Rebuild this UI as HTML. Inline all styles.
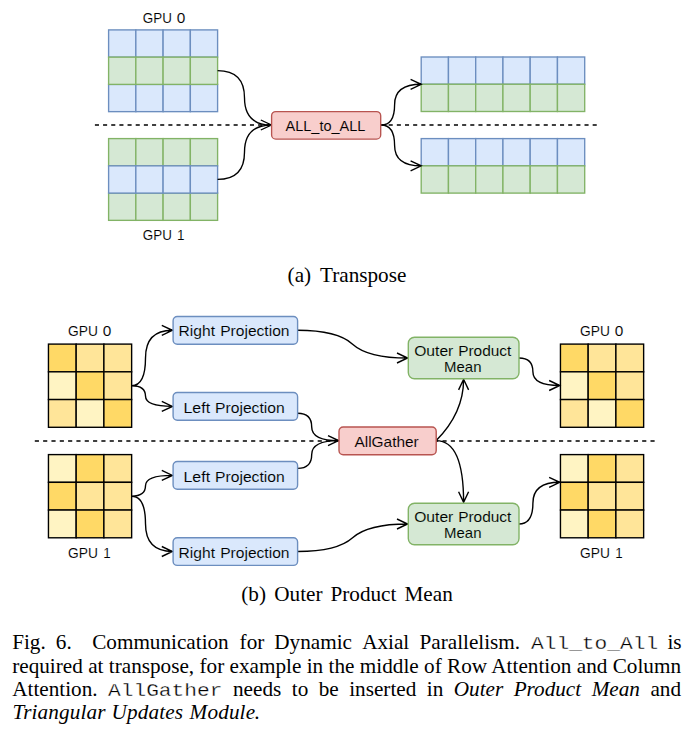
<!DOCTYPE html>
<html><head><meta charset="utf-8"><title>Fig 6</title>
<style>
html,body{margin:0;padding:0;background:#fff;}
body{width:691px;height:735px;position:relative;overflow:hidden;font-family:"Liberation Serif",serif;color:#000;}
.w{position:absolute;white-space:pre;line-height:1;font-size:20.7px;}
.m{font-family:"Liberation Mono",monospace;font-size:18.4px;-webkit-text-stroke:0.3px #fff;display:inline-block;transform-origin:0 50%;transform:scaleX(1.152);}
.mo{display:inline-block;width:114.5px;text-align:left;text-align-last:left;}
.i{font-style:italic;}
.w.i{letter-spacing:0.15px;}
.ln{position:absolute;left:12.2px;width:668.8px;font-size:21.2px;line-height:24px;height:24px;text-align:justify;text-align-last:justify;white-space:nowrap;}
</style></head>
<body>
<svg width="691" height="735" viewBox="0 0 691 735" style="position:absolute;left:0;top:0">
<path d="M94.9 125 H597.1" stroke="#000" stroke-width="1.36" stroke-dasharray="4.08 4.08" fill="none"/>
<rect x="108.60" y="29.90" width="27.25" height="27.25" fill="#dae8fc" stroke="#6c8ebf" stroke-width="1.36"/>
<rect x="135.85" y="29.90" width="27.25" height="27.25" fill="#dae8fc" stroke="#6c8ebf" stroke-width="1.36"/>
<rect x="163.10" y="29.90" width="27.25" height="27.25" fill="#dae8fc" stroke="#6c8ebf" stroke-width="1.36"/>
<rect x="190.35" y="29.90" width="27.25" height="27.25" fill="#dae8fc" stroke="#6c8ebf" stroke-width="1.36"/>
<rect x="108.60" y="84.40" width="27.25" height="27.25" fill="#dae8fc" stroke="#6c8ebf" stroke-width="1.36"/>
<rect x="135.85" y="84.40" width="27.25" height="27.25" fill="#dae8fc" stroke="#6c8ebf" stroke-width="1.36"/>
<rect x="163.10" y="84.40" width="27.25" height="27.25" fill="#dae8fc" stroke="#6c8ebf" stroke-width="1.36"/>
<rect x="190.35" y="84.40" width="27.25" height="27.25" fill="#dae8fc" stroke="#6c8ebf" stroke-width="1.36"/>
<rect x="108.60" y="57.15" width="27.25" height="27.25" fill="#d5e8d4" stroke="#82b366" stroke-width="1.36"/>
<rect x="135.85" y="57.15" width="27.25" height="27.25" fill="#d5e8d4" stroke="#82b366" stroke-width="1.36"/>
<rect x="163.10" y="57.15" width="27.25" height="27.25" fill="#d5e8d4" stroke="#82b366" stroke-width="1.36"/>
<rect x="190.35" y="57.15" width="27.25" height="27.25" fill="#d5e8d4" stroke="#82b366" stroke-width="1.36"/>
<rect x="108.60" y="138.60" width="27.25" height="27.25" fill="#d5e8d4" stroke="#82b366" stroke-width="1.36"/>
<rect x="135.85" y="138.60" width="27.25" height="27.25" fill="#d5e8d4" stroke="#82b366" stroke-width="1.36"/>
<rect x="163.10" y="138.60" width="27.25" height="27.25" fill="#d5e8d4" stroke="#82b366" stroke-width="1.36"/>
<rect x="190.35" y="138.60" width="27.25" height="27.25" fill="#d5e8d4" stroke="#82b366" stroke-width="1.36"/>
<rect x="108.60" y="193.10" width="27.25" height="27.25" fill="#d5e8d4" stroke="#82b366" stroke-width="1.36"/>
<rect x="135.85" y="193.10" width="27.25" height="27.25" fill="#d5e8d4" stroke="#82b366" stroke-width="1.36"/>
<rect x="163.10" y="193.10" width="27.25" height="27.25" fill="#d5e8d4" stroke="#82b366" stroke-width="1.36"/>
<rect x="190.35" y="193.10" width="27.25" height="27.25" fill="#d5e8d4" stroke="#82b366" stroke-width="1.36"/>
<rect x="108.60" y="165.85" width="27.25" height="27.25" fill="#dae8fc" stroke="#6c8ebf" stroke-width="1.36"/>
<rect x="135.85" y="165.85" width="27.25" height="27.25" fill="#dae8fc" stroke="#6c8ebf" stroke-width="1.36"/>
<rect x="163.10" y="165.85" width="27.25" height="27.25" fill="#dae8fc" stroke="#6c8ebf" stroke-width="1.36"/>
<rect x="190.35" y="165.85" width="27.25" height="27.25" fill="#dae8fc" stroke="#6c8ebf" stroke-width="1.36"/>
<rect x="421.20" y="57.00" width="27.25" height="27.25" fill="#dae8fc" stroke="#6c8ebf" stroke-width="1.36"/>
<rect x="448.45" y="57.00" width="27.25" height="27.25" fill="#dae8fc" stroke="#6c8ebf" stroke-width="1.36"/>
<rect x="475.70" y="57.00" width="27.25" height="27.25" fill="#dae8fc" stroke="#6c8ebf" stroke-width="1.36"/>
<rect x="502.95" y="57.00" width="27.25" height="27.25" fill="#dae8fc" stroke="#6c8ebf" stroke-width="1.36"/>
<rect x="530.20" y="57.00" width="27.25" height="27.25" fill="#dae8fc" stroke="#6c8ebf" stroke-width="1.36"/>
<rect x="557.45" y="57.00" width="27.25" height="27.25" fill="#dae8fc" stroke="#6c8ebf" stroke-width="1.36"/>
<rect x="421.20" y="84.25" width="27.25" height="27.25" fill="#d5e8d4" stroke="#82b366" stroke-width="1.36"/>
<rect x="448.45" y="84.25" width="27.25" height="27.25" fill="#d5e8d4" stroke="#82b366" stroke-width="1.36"/>
<rect x="475.70" y="84.25" width="27.25" height="27.25" fill="#d5e8d4" stroke="#82b366" stroke-width="1.36"/>
<rect x="502.95" y="84.25" width="27.25" height="27.25" fill="#d5e8d4" stroke="#82b366" stroke-width="1.36"/>
<rect x="530.20" y="84.25" width="27.25" height="27.25" fill="#d5e8d4" stroke="#82b366" stroke-width="1.36"/>
<rect x="557.45" y="84.25" width="27.25" height="27.25" fill="#d5e8d4" stroke="#82b366" stroke-width="1.36"/>
<rect x="421.20" y="138.60" width="27.25" height="27.25" fill="#dae8fc" stroke="#6c8ebf" stroke-width="1.36"/>
<rect x="448.45" y="138.60" width="27.25" height="27.25" fill="#dae8fc" stroke="#6c8ebf" stroke-width="1.36"/>
<rect x="475.70" y="138.60" width="27.25" height="27.25" fill="#dae8fc" stroke="#6c8ebf" stroke-width="1.36"/>
<rect x="502.95" y="138.60" width="27.25" height="27.25" fill="#dae8fc" stroke="#6c8ebf" stroke-width="1.36"/>
<rect x="530.20" y="138.60" width="27.25" height="27.25" fill="#dae8fc" stroke="#6c8ebf" stroke-width="1.36"/>
<rect x="557.45" y="138.60" width="27.25" height="27.25" fill="#dae8fc" stroke="#6c8ebf" stroke-width="1.36"/>
<rect x="421.20" y="165.85" width="27.25" height="27.25" fill="#d5e8d4" stroke="#82b366" stroke-width="1.36"/>
<rect x="448.45" y="165.85" width="27.25" height="27.25" fill="#d5e8d4" stroke="#82b366" stroke-width="1.36"/>
<rect x="475.70" y="165.85" width="27.25" height="27.25" fill="#d5e8d4" stroke="#82b366" stroke-width="1.36"/>
<rect x="502.95" y="165.85" width="27.25" height="27.25" fill="#d5e8d4" stroke="#82b366" stroke-width="1.36"/>
<rect x="530.20" y="165.85" width="27.25" height="27.25" fill="#d5e8d4" stroke="#82b366" stroke-width="1.36"/>
<rect x="557.45" y="165.85" width="27.25" height="27.25" fill="#d5e8d4" stroke="#82b366" stroke-width="1.36"/>
<path d="M217.60 70.60 Q244.50 70.60 244.50 97.80 Q244.50 125.00 271.40 125.00 M217.60 179.40 Q244.50 179.40 244.50 152.20 Q244.50 125.00 271.40 125.00 M260.80 130.00 L271.40 125.00 L260.80 120.00 M381.00 125.00 Q394.60 125.00 394.60 104.65 Q394.60 84.30 421.20 84.30 M410.60 89.30 L421.20 84.30 L410.60 79.30 M381.00 125.00 Q394.60 125.00 394.60 145.40 Q394.60 165.80 421.20 165.80 M410.60 170.80 L421.20 165.80 L410.60 160.80" stroke="#000" stroke-width="1.36" fill="none" stroke-linejoin="miter" stroke-miterlimit="10"/>
<rect x="271.6" y="111.6" width="109.1" height="27.5" rx="4.2" fill="#f8cecc" stroke="#b85450" stroke-width="1.36"/>
<path d="M34.8 441.0 H656.3" stroke="#000" stroke-width="1.39" stroke-dasharray="4.16 4.16" fill="none"/>
<rect x="48.45" y="344.10" width="27.73" height="27.73" fill="#ffd966" stroke="#000" stroke-width="1.39"/>
<rect x="76.18" y="344.10" width="27.73" height="27.73" fill="#ffe599" stroke="#000" stroke-width="1.39"/>
<rect x="103.91" y="344.10" width="27.73" height="27.73" fill="#ffe599" stroke="#000" stroke-width="1.39"/>
<rect x="48.45" y="371.83" width="27.73" height="27.73" fill="#fff4c3" stroke="#000" stroke-width="1.39"/>
<rect x="76.18" y="371.83" width="27.73" height="27.73" fill="#ffd966" stroke="#000" stroke-width="1.39"/>
<rect x="103.91" y="371.83" width="27.73" height="27.73" fill="#ffe599" stroke="#000" stroke-width="1.39"/>
<rect x="48.45" y="399.56" width="27.73" height="27.73" fill="#ffe599" stroke="#000" stroke-width="1.39"/>
<rect x="76.18" y="399.56" width="27.73" height="27.73" fill="#fff4c3" stroke="#000" stroke-width="1.39"/>
<rect x="103.91" y="399.56" width="27.73" height="27.73" fill="#ffd966" stroke="#000" stroke-width="1.39"/>
<rect x="48.45" y="454.60" width="27.73" height="27.73" fill="#fff4c3" stroke="#000" stroke-width="1.39"/>
<rect x="76.18" y="454.60" width="27.73" height="27.73" fill="#ffd966" stroke="#000" stroke-width="1.39"/>
<rect x="103.91" y="454.60" width="27.73" height="27.73" fill="#ffe599" stroke="#000" stroke-width="1.39"/>
<rect x="48.45" y="482.33" width="27.73" height="27.73" fill="#ffd966" stroke="#000" stroke-width="1.39"/>
<rect x="76.18" y="482.33" width="27.73" height="27.73" fill="#ffe599" stroke="#000" stroke-width="1.39"/>
<rect x="103.91" y="482.33" width="27.73" height="27.73" fill="#ffe599" stroke="#000" stroke-width="1.39"/>
<rect x="48.45" y="510.06" width="27.73" height="27.73" fill="#fff4c3" stroke="#000" stroke-width="1.39"/>
<rect x="76.18" y="510.06" width="27.73" height="27.73" fill="#ffd966" stroke="#000" stroke-width="1.39"/>
<rect x="103.91" y="510.06" width="27.73" height="27.73" fill="#ffe599" stroke="#000" stroke-width="1.39"/>
<rect x="560.45" y="344.10" width="27.73" height="27.73" fill="#ffd966" stroke="#000" stroke-width="1.39"/>
<rect x="588.18" y="344.10" width="27.73" height="27.73" fill="#ffe599" stroke="#000" stroke-width="1.39"/>
<rect x="615.91" y="344.10" width="27.73" height="27.73" fill="#ffe599" stroke="#000" stroke-width="1.39"/>
<rect x="560.45" y="371.83" width="27.73" height="27.73" fill="#fff4c3" stroke="#000" stroke-width="1.39"/>
<rect x="588.18" y="371.83" width="27.73" height="27.73" fill="#ffd966" stroke="#000" stroke-width="1.39"/>
<rect x="615.91" y="371.83" width="27.73" height="27.73" fill="#ffe599" stroke="#000" stroke-width="1.39"/>
<rect x="560.45" y="399.56" width="27.73" height="27.73" fill="#ffe599" stroke="#000" stroke-width="1.39"/>
<rect x="588.18" y="399.56" width="27.73" height="27.73" fill="#fff4c3" stroke="#000" stroke-width="1.39"/>
<rect x="615.91" y="399.56" width="27.73" height="27.73" fill="#ffd966" stroke="#000" stroke-width="1.39"/>
<rect x="560.45" y="454.60" width="27.73" height="27.73" fill="#fff4c3" stroke="#000" stroke-width="1.39"/>
<rect x="588.18" y="454.60" width="27.73" height="27.73" fill="#ffd966" stroke="#000" stroke-width="1.39"/>
<rect x="615.91" y="454.60" width="27.73" height="27.73" fill="#ffe599" stroke="#000" stroke-width="1.39"/>
<rect x="560.45" y="482.33" width="27.73" height="27.73" fill="#ffd966" stroke="#000" stroke-width="1.39"/>
<rect x="588.18" y="482.33" width="27.73" height="27.73" fill="#ffe599" stroke="#000" stroke-width="1.39"/>
<rect x="615.91" y="482.33" width="27.73" height="27.73" fill="#ffe599" stroke="#000" stroke-width="1.39"/>
<rect x="560.45" y="510.06" width="27.73" height="27.73" fill="#fff4c3" stroke="#000" stroke-width="1.39"/>
<rect x="588.18" y="510.06" width="27.73" height="27.73" fill="#ffd966" stroke="#000" stroke-width="1.39"/>
<rect x="615.91" y="510.06" width="27.73" height="27.73" fill="#ffe599" stroke="#000" stroke-width="1.39"/>
<path d="M131.60 385.70 Q145.50 385.70 145.50 358.00 Q145.50 330.30 172.40 330.30 M161.80 335.30 L172.40 330.30 L161.80 325.30 M131.60 385.70 Q145.50 385.70 145.50 396.05 Q145.50 406.40 172.40 406.40 M161.80 411.40 L172.40 406.40 L161.80 401.40 M131.60 496.20 Q145.50 496.20 145.50 485.80 Q145.50 475.40 172.40 475.40 M161.80 480.40 L172.40 475.40 L161.80 470.40 M131.60 496.20 Q145.50 496.20 145.50 523.85 Q145.50 551.50 172.40 551.50 M161.80 556.50 L172.40 551.50 L161.80 546.50 M297.60 413.30 Q311.70 413.30 311.70 426.95 Q311.70 440.60 338.60 440.60 M297.60 468.40 Q311.70 468.40 311.70 454.50 Q311.70 440.60 338.60 440.60 M328.00 445.60 L338.60 440.60 L328.00 435.60 M297.60 330.30 Q337.20 330.30 352.60 344.15 Q368.00 358.00 407.60 358.00 M397.00 363.00 L407.60 358.00 L397.00 353.00 M297.60 551.50 Q337.20 551.50 352.60 537.75 Q368.00 524.00 407.60 524.00 M397.00 529.00 L407.60 524.00 L397.00 519.00 M436.2 440.6 Q463.6 413 463.6 379.3 M468.60 389.90 L463.60 379.30 L458.60 389.90 M436.2 440.6 Q463.6 440.6 463.6 502.3 M458.60 491.70 L463.60 502.30 L468.60 491.70 M519.00 358.00 Q532.90 358.00 532.90 371.75 Q532.90 385.50 559.75 385.50 M549.15 390.50 L559.75 385.50 L549.15 380.50 M519.00 524.00 Q532.90 524.00 532.90 503.15 Q532.90 482.30 559.75 482.30 M549.15 487.30 L559.75 482.30 L549.15 477.30" stroke="#000" stroke-width="1.39" fill="none" stroke-linejoin="miter" stroke-miterlimit="10"/>
<rect x="173.1" y="316.5" width="124.5" height="27.7" rx="4.2" fill="#dae8fc" stroke="#6c8ebf" stroke-width="1.39"/>
<rect x="173.1" y="392.55" width="124.5" height="27.7" rx="4.2" fill="#dae8fc" stroke="#6c8ebf" stroke-width="1.39"/>
<rect x="173.1" y="461.55" width="124.5" height="27.7" rx="4.2" fill="#dae8fc" stroke="#6c8ebf" stroke-width="1.39"/>
<rect x="173.1" y="537.7" width="124.5" height="27.7" rx="4.2" fill="#dae8fc" stroke="#6c8ebf" stroke-width="1.39"/>
<rect x="339.0" y="427.0" width="97.2" height="27.7" rx="4.2" fill="#f8cecc" stroke="#b85450" stroke-width="1.39"/>
<rect x="408.3" y="337.3" width="110.7" height="41.4" rx="6.2" fill="#d5e8d4" stroke="#82b366" stroke-width="1.39"/>
<rect x="408.3" y="503.3" width="110.7" height="41.4" rx="6.2" fill="#d5e8d4" stroke="#82b366" stroke-width="1.39"/>
<g font-family="'Liberation Sans', sans-serif" fill="#000"><text x="142.87" y="22.80" font-size="14.4" textLength="29.04" lengthAdjust="spacingAndGlyphs" stroke="#ffffff" stroke-width="0.1">GPU</text>
<text x="176.68" y="22.80" font-size="14.4" textLength="8.57" lengthAdjust="spacingAndGlyphs" stroke="#ffffff" stroke-width="0.1">0</text>
<text x="142.87" y="240.00" font-size="14.4" textLength="29.04" lengthAdjust="spacingAndGlyphs" stroke="#ffffff" stroke-width="0.1">GPU</text>
<text x="177.11" y="240.00" font-size="14.4" textLength="7.51" lengthAdjust="spacingAndGlyphs" stroke="#ffffff" stroke-width="0.1">1</text>
<text x="285.51" y="130.80" font-size="14.4" textLength="79.95" lengthAdjust="spacingAndGlyphs" stroke="#f8cecc" stroke-width="0.1">ALL_to_ALL</text>
<text x="68.12" y="336.00" font-size="14.7" textLength="29.83" lengthAdjust="spacingAndGlyphs" stroke="#ffffff" stroke-width="0.1">GPU</text>
<text x="102.68" y="336.00" font-size="14.7" textLength="8.56" lengthAdjust="spacingAndGlyphs" stroke="#ffffff" stroke-width="0.1">0</text>
<text x="68.12" y="558.00" font-size="14.7" textLength="29.83" lengthAdjust="spacingAndGlyphs" stroke="#ffffff" stroke-width="0.1">GPU</text>
<text x="103.17" y="558.00" font-size="14.7" textLength="7.43" lengthAdjust="spacingAndGlyphs" stroke="#ffffff" stroke-width="0.1">1</text>
<text x="580.12" y="336.00" font-size="14.7" textLength="29.83" lengthAdjust="spacingAndGlyphs" stroke="#ffffff" stroke-width="0.1">GPU</text>
<text x="614.68" y="336.00" font-size="14.7" textLength="8.56" lengthAdjust="spacingAndGlyphs" stroke="#ffffff" stroke-width="0.1">0</text>
<text x="580.12" y="558.00" font-size="14.7" textLength="29.83" lengthAdjust="spacingAndGlyphs" stroke="#ffffff" stroke-width="0.1">GPU</text>
<text x="615.17" y="558.00" font-size="14.7" textLength="7.43" lengthAdjust="spacingAndGlyphs" stroke="#ffffff" stroke-width="0.1">1</text>
<text x="178.59" y="335.60" font-size="14.7" textLength="36.40" lengthAdjust="spacingAndGlyphs" stroke="#dae8fc" stroke-width="0.1">Right</text>
<text x="220.16" y="335.60" font-size="14.7" textLength="69.34" lengthAdjust="spacingAndGlyphs" stroke="#dae8fc" stroke-width="0.1">Projection</text>
<text x="178.59" y="557.60" font-size="14.7" textLength="36.40" lengthAdjust="spacingAndGlyphs" stroke="#dae8fc" stroke-width="0.1">Right</text>
<text x="220.16" y="557.60" font-size="14.7" textLength="69.34" lengthAdjust="spacingAndGlyphs" stroke="#dae8fc" stroke-width="0.1">Projection</text>
<text x="183.51" y="413.00" font-size="14.7" textLength="26.55" lengthAdjust="spacingAndGlyphs" stroke="#dae8fc" stroke-width="0.1">Left</text>
<text x="215.07" y="413.00" font-size="14.7" textLength="69.62" lengthAdjust="spacingAndGlyphs" stroke="#dae8fc" stroke-width="0.1">Projection</text>
<text x="183.51" y="482.00" font-size="14.7" textLength="26.55" lengthAdjust="spacingAndGlyphs" stroke="#dae8fc" stroke-width="0.1">Left</text>
<text x="215.07" y="482.00" font-size="14.7" textLength="69.62" lengthAdjust="spacingAndGlyphs" stroke="#dae8fc" stroke-width="0.1">Projection</text>
<text x="354.42" y="447.00" font-size="14.7" textLength="64.37" lengthAdjust="spacingAndGlyphs" stroke="#f8cecc" stroke-width="0.1">AllGather</text>
<text x="414.20" y="355.80" font-size="14.7" textLength="39.13" lengthAdjust="spacingAndGlyphs" stroke="#d5e8d4" stroke-width="0.1">Outer</text>
<text x="458.15" y="355.80" font-size="14.7" textLength="53.18" lengthAdjust="spacingAndGlyphs" stroke="#d5e8d4" stroke-width="0.1">Product</text>
<text x="444.08" y="371.60" font-size="14.7" textLength="37.39" lengthAdjust="spacingAndGlyphs" stroke="#d5e8d4" stroke-width="0.1">Mean</text>
<text x="414.20" y="521.80" font-size="14.7" textLength="39.13" lengthAdjust="spacingAndGlyphs" stroke="#d5e8d4" stroke-width="0.1">Outer</text>
<text x="458.15" y="521.80" font-size="14.7" textLength="53.18" lengthAdjust="spacingAndGlyphs" stroke="#d5e8d4" stroke-width="0.1">Product</text>
<text x="444.08" y="537.60" font-size="14.7" textLength="37.39" lengthAdjust="spacingAndGlyphs" stroke="#d5e8d4" stroke-width="0.1">Mean</text></g>
</svg>
<div class="w " style="left:287.6px;top:265.25px;font-size:21.2px">(a)</div><div class="w " style="left:320.0px;top:265.25px;font-size:21.2px">Transpose</div><div class="w " style="left:241.3px;top:583.54px;font-size:21.2px">(b)</div><div class="w " style="left:274.3px;top:583.54px;font-size:21.2px">Outer</div><div class="w " style="left:330.5px;top:583.54px;font-size:21.2px">Product</div><div class="w " style="left:404.5px;top:583.54px;font-size:21.2px">Mean</div><div class="w " style="left:12.2px;top:631.85px;font-size:21.2px">Fig.</div><div class="w " style="left:55.8px;top:631.85px;font-size:21.2px">6.</div><div class="w " style="left:92.2px;top:631.85px;font-size:21.2px">Communication</div><div class="w " style="left:239.6px;top:631.85px;font-size:21.2px">for</div><div class="w " style="left:274.3px;top:631.85px;font-size:21.2px">Dynamic</div><div class="w " style="left:362.2px;top:631.85px;font-size:21.2px">Axial</div><div class="w " style="left:419.5px;top:631.85px;font-size:21.2px">Parallelism.</div><div class="w m" style="left:530.6px;top:635.50px;font-size:18.4px">All_to_All</div><div class="w " style="left:667.4px;top:631.85px;font-size:21.2px">is</div><div class="w i" style="left:12.4px;top:702.35px;font-size:21.2px">Triangular</div><div class="w i" style="left:111.6px;top:702.35px;font-size:21.2px">Updates</div><div class="w i" style="left:189.6px;top:702.35px;font-size:21.2px">Module</div><div class="w " style="left:254.2px;top:702.35px;font-size:21.2px">.</div>
<div class="ln" style="top:653.85px">required at transpose, for example in the middle of Row Attention and Column</div><div class="ln" style="top:677.35px">Attention. <span class="mo"><span class="m">AllGather</span></span> needs to be inserted in <span class="i">Outer Product Mean</span> and</div>
</body></html>
